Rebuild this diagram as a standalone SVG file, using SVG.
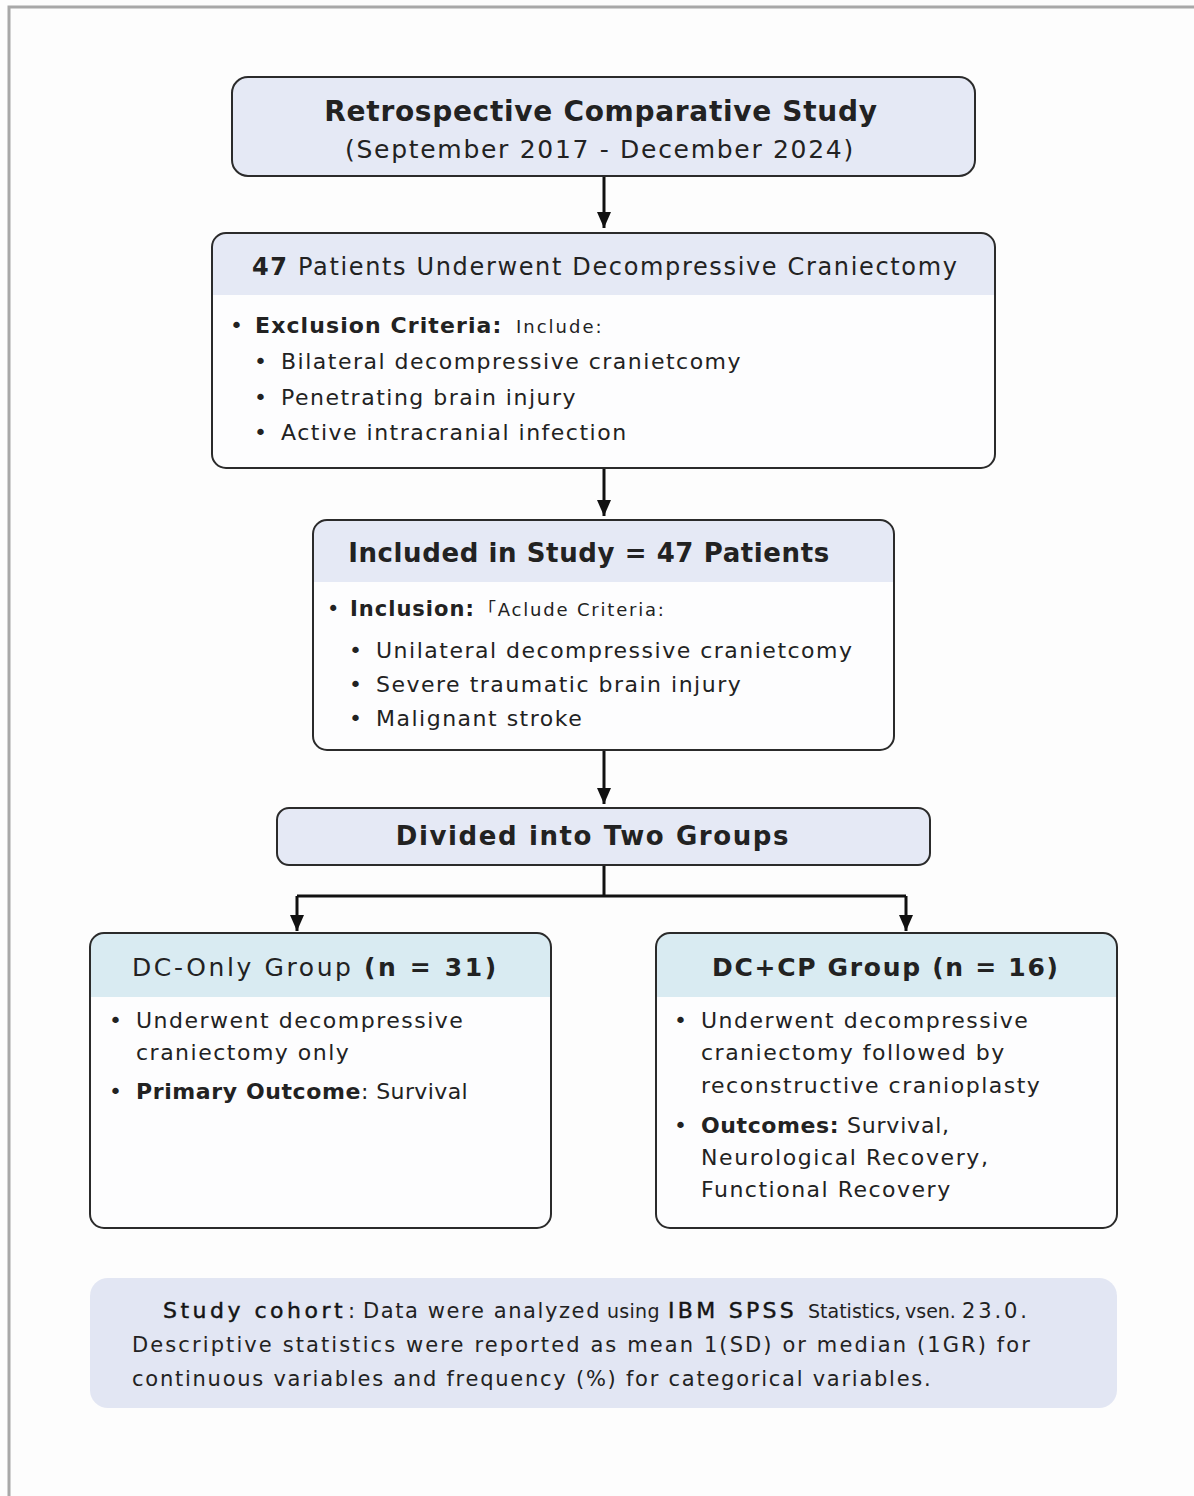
<svg xmlns="http://www.w3.org/2000/svg" width="1194" height="1496" viewBox="0 0 1194 1496">
<defs>
<style>
text{font-family:"DejaVu Sans","Noto Sans","Noto Sans CJK JP",sans-serif;fill:#222;}
.box{stroke:#2b2b2b;stroke-width:2;}
.hd{fill:#e5e9f5;}
.wh{fill:#fdfdfe;}
.bl{fill:#d9ebf2;}
.b{font-weight:700;}
.body{font-size:22px;letter-spacing:1.5px;}
.med{fill:#151515;stroke:#151515;stroke-width:0.45px;}
.conn{stroke:#111;stroke-width:3;fill:none;}
</style>
<marker id="arr" viewBox="0 0 16 14" refX="16" refY="7" markerWidth="16" markerHeight="14" markerUnits="userSpaceOnUse" orient="auto">
<path d="M0,0 L16,7 L0,14 z" fill="#111"/>
</marker>
<clipPath id="c2"><rect x="212" y="233" width="783" height="235" rx="14"/></clipPath>
<clipPath id="c3"><rect x="313" y="520" width="581" height="230" rx="14"/></clipPath>
<clipPath id="c5"><rect x="90" y="933" width="461" height="295" rx="14"/></clipPath>
<clipPath id="c6"><rect x="656" y="933" width="461" height="295" rx="14"/></clipPath>
</defs>
<rect x="0" y="0" width="1194" height="1496" fill="#fdfdfd"/>
<path d="M9,1496 L9,7 L1194,7" stroke="#a8a8a8" stroke-width="3" fill="none"/>

<g id="connectors">
<path class="conn" d="M604,176 L604,228" marker-end="url(#arr)"/>
<path class="conn" d="M604,468 L604,516" marker-end="url(#arr)"/>
<path class="conn" d="M604,750 L604,804" marker-end="url(#arr)"/>
<path class="conn" d="M604,865 L604,896 M297,896 L906,896"/>
<path class="conn" d="M297,896 L297,931" marker-end="url(#arr)"/>
<path class="conn" d="M906,896 L906,931" marker-end="url(#arr)"/>
</g>

<g id="study">
<rect class="box hd" x="232" y="77" width="743" height="99" rx="16"/>
<text x="601" y="121" text-anchor="middle" font-size="28" letter-spacing="0.7" class="b">Retrospective Comparative Study</text>
<text x="600" y="158" text-anchor="middle" font-size="25" letter-spacing="1.7">(September 2017 - December 2024)</text>
</g>

<g id="patients47">
<g clip-path="url(#c2)">
<rect class="wh" x="212" y="233" width="783" height="235"/>
<rect class="hd" x="212" y="233" width="783" height="62"/>
</g>
<rect class="box" fill="none" x="212" y="233" width="783" height="235" rx="14"/>
<text x="252" y="275" font-size="24" letter-spacing="1.65"><tspan class="b">47</tspan> Patients Underwent Decompressive Craniectomy</text>
<text x="230" y="333" font-size="22"><tspan>•</tspan><tspan x="255" class="b" letter-spacing="1.1">Exclusion Criteria:</tspan><tspan x="516" font-size="18" letter-spacing="2">Include:</tspan></text>
<text class="body" letter-spacing="1.7"><tspan x="254" y="369">•</tspan><tspan x="281" y="369">Bilateral decompressive cranietcomy</tspan><tspan x="254" y="405">•</tspan><tspan x="281" y="405">Penetrating brain injury</tspan><tspan x="254" y="440">•</tspan><tspan x="281" y="440">Active intracranial infection</tspan></text>
</g>

<g id="included">
<g clip-path="url(#c3)">
<rect class="wh" x="313" y="520" width="581" height="230"/>
<rect class="hd" x="313" y="520" width="581" height="62"/>
</g>
<rect class="box" fill="none" x="313" y="520" width="581" height="230" rx="14"/>
<text x="589" y="562" text-anchor="middle" font-size="26" letter-spacing="0.6" class="b">Included in Study = 47 Patients</text>
<text x="327" y="616" font-size="21"><tspan>•</tspan><tspan x="350" class="b" letter-spacing="1">Inclusion:</tspan><tspan x="487" font-size="18" letter-spacing="1.8">｢Aclude Criteria:</tspan></text>
<text class="body" letter-spacing="1.1"><tspan x="349" y="658">•</tspan><tspan x="376" y="658">Unilateral decompressive cranietcomy</tspan><tspan x="349" y="692">•</tspan><tspan x="376" y="692">Severe traumatic brain injury</tspan><tspan x="349" y="726">•</tspan><tspan x="376" y="726">Malignant stroke</tspan></text>
</g>

<g id="divided">
<rect class="box hd" x="277" y="808" width="653" height="57" rx="12"/>
<text x="593" y="845" text-anchor="middle" font-size="26" letter-spacing="1.6" class="b">Divided into Two Groups</text>
</g>

<g id="dconly">
<g clip-path="url(#c5)">
<rect class="wh" x="90" y="933" width="461" height="295"/>
<rect class="bl" x="90" y="933" width="461" height="64"/>
</g>
<rect class="box" fill="none" x="90" y="933" width="461" height="295" rx="14"/>
<text x="132" y="976" font-size="25" letter-spacing="2.6">DC-Only Group <tspan class="b">(n = 31)</tspan></text>
<text class="body" letter-spacing="1.8"><tspan x="109" y="1028">•</tspan><tspan x="136" y="1028">Underwent decompressive</tspan><tspan x="136" y="1060">craniectomy only</tspan><tspan x="109" y="1099">•</tspan><tspan x="136" y="1099" class="b" letter-spacing="0.6">Primary Outcome</tspan><tspan letter-spacing="0.4">: Survival</tspan></text>
</g>

<g id="dccp">
<g clip-path="url(#c6)">
<rect class="wh" x="656" y="933" width="461" height="295"/>
<rect class="bl" x="656" y="933" width="461" height="64"/>
</g>
<rect class="box" fill="none" x="656" y="933" width="461" height="295" rx="14"/>
<text x="712" y="976" font-size="25" letter-spacing="1.7" class="b">DC+CP Group (n = 16)</text>
<text class="body" letter-spacing="1.75"><tspan x="674" y="1028">•</tspan><tspan x="701" y="1028">Underwent decompressive</tspan><tspan x="701" y="1060">craniectomy followed by</tspan><tspan x="701" y="1093">reconstructive cranioplasty</tspan><tspan x="674" y="1133">•</tspan><tspan x="701" y="1133" class="b" letter-spacing="0.6">Outcomes:</tspan><tspan letter-spacing="0.8"> Survival,</tspan><tspan x="701" y="1165" letter-spacing="1.6">Neurological Recovery,</tspan><tspan x="701" y="1197">Functional Recovery</tspan></text>
</g>

<g id="note">
<rect x="90" y="1278" width="1027" height="130" rx="18" fill="#e2e6f3"/>
<text font-size="21" letter-spacing="1.9"><tspan x="163" y="1318" class="med" font-size="22" letter-spacing="3.5">Study cohort</tspan><tspan x="348">:</tspan><tspan x="363" letter-spacing="1.6">Data were analyzed</tspan><tspan x="607" font-size="19" letter-spacing="0.3">using</tspan><tspan x="668" class="med" font-size="22" letter-spacing="3.3">IBM SPSS</tspan><tspan x="808" font-size="19" letter-spacing="0">Statistics,</tspan><tspan x="905" font-size="19" letter-spacing="0">vsen.</tspan><tspan x="962" letter-spacing="2.9">23.0.</tspan><tspan x="132" y="1352" letter-spacing="2.1">Descriptive statistics were reported as mean 1(SD) or median (1GR) for</tspan><tspan x="132" y="1386" letter-spacing="1.75">continuous variables and frequency (%) for categorical variables.</tspan></text>
</g>
</svg>
